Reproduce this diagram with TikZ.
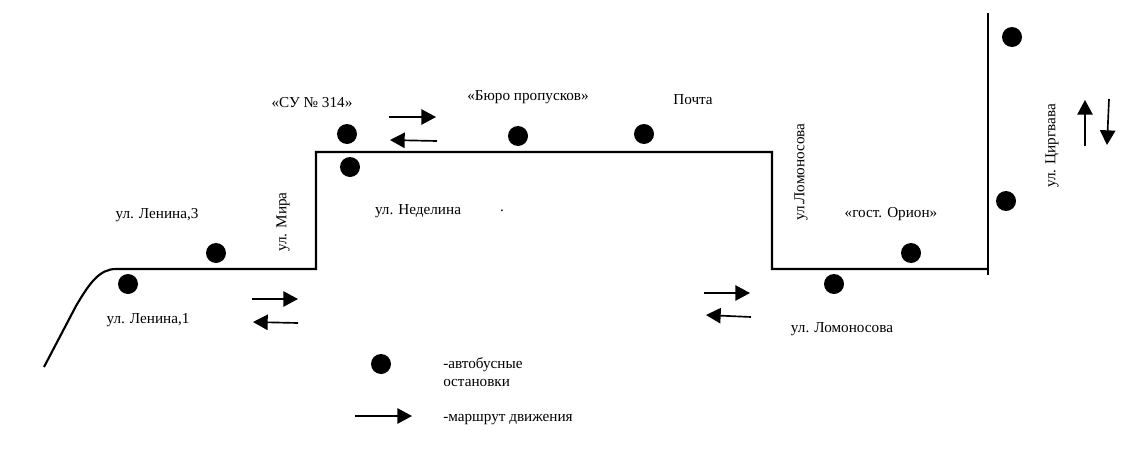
\documentclass[tikz,border=0pt]{standalone}
\usepackage{fontspec}
\setmainfont{Liberation Serif}
\usetikzlibrary{arrows.meta}
\tikzset{
  stopdot/.style={circle,fill=black,draw=none,minimum size=15pt,inner sep=0pt},
  road/.style={line width=1.6pt,line join=miter,black},
  route/.style={line width=1.25pt,black,-{Triangle[length=11pt,width=11.5pt]}},
  lbl/.style={font=\fontsize{11.4pt}{13.5pt}\selectfont,inner sep=0pt,text=black},
}
\begin{document}
\begin{tikzpicture}[x=0.75pt,y=-0.75pt]
\useasboundingbox (0,0) rectangle (1139,450);
\fill[white] (0,0) rectangle (1139,450);
% road
\coordinate (r0) at (44,367);
\coordinate (r0b) at (76,306);
\coordinate (r1) at (116,269);
\coordinate (r2) at (316,269);
\coordinate (r3) at (316,152);
\coordinate (r4) at (772,152);
\coordinate (r5) at (772,269);
\coordinate (r6) at (988,269);
\coordinate (r7) at (988,13);
\coordinate (r8) at (988,275);
\draw[road] (r0) -- (r0b) .. controls (90,282) and (100,269) .. (r1) -- (r2) -- (r3) -- (r4) -- (r5) -- (r6);
\draw[road,line width=1.9pt] (r7) -- (r8);
% stops
\node[stopdot] (s1) at (128,284) {};
\node[stopdot] (s2) at (216,253) {};
\node[stopdot] (s3) at (347,134) {};
\node[stopdot] (s4) at (350,167) {};
\node[stopdot] (s5) at (518,136) {};
\node[stopdot] (s6) at (644,134) {};
\node[stopdot] (s7) at (834,284) {};
\node[stopdot] (s8) at (911,253) {};
\node[stopdot] (s9) at (1006,201) {};
\node[stopdot] (s10) at (1012,37) {};
\node[stopdot] (s11) at (381,364) {};
% arrows
\coordinate (a1s) at (252,299); \coordinate (a1e) at (298,299);
\coordinate (a2s) at (298,323); \coordinate (a2e) at (253,322);
\coordinate (a3s) at (389,117); \coordinate (a3e) at (436,117);
\coordinate (a4s) at (437,141); \coordinate (a4e) at (390,140);
\coordinate (a5s) at (704,293); \coordinate (a5e) at (750,293);
\coordinate (a6s) at (751,317); \coordinate (a6e) at (706,315);
\coordinate (a7s) at (1085,146); \coordinate (a7e) at (1085,100);
\coordinate (a8s) at (1109,99); \coordinate (a8e) at (1107,145);
\coordinate (a9s) at (355,416); \coordinate (a9e) at (412,416);
\foreach \n in {1,...,9} \draw[route] (a\n s) -- (a\n e);
% labels
\node[lbl] (l1) at (148,320) {ул. Ленина,1};
\node[lbl] (l2) at (157,215) {ул. Ленина,3};
\node[lbl,rotate=90] (l3) at (283,222) {ул. Мира};
\node[lbl] (l4) at (312,103) {«СУ № 314»};
\node[lbl] (l5) at (418,211) {ул. Неделина};
\node[lbl] (l6) at (502,211) {.};
\node[lbl] (l7) at (528,97) {«Бюро пропусков»};
\node[lbl] (l8) at (693,100) {Почта};
\node[lbl,rotate=90] (l9) at (801,172) {ул.Ломоносова};
\node[lbl] (l10) at (891,214) {«гост. Орион»};
\node[lbl] (l11) at (842,329) {ул. Ломоносова};
\node[lbl,rotate=90] (l12) at (1052,146) {ул. Циргвава};
\node[lbl,anchor=west,align=left] (l13) at (443,372) {-автобусные\\остановки};
\node[lbl,anchor=west] (l14) at (443,420) {-маршрут движения};
\end{tikzpicture}
\end{document}
